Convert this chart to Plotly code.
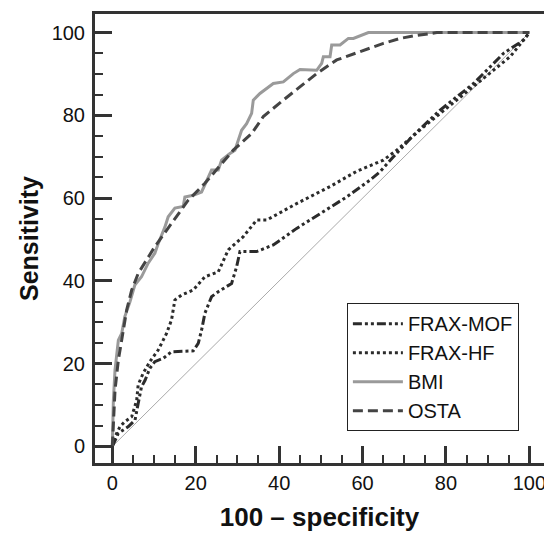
import plotly.graph_objects as go

# ---- data ----
bmi_x = [0, 0.25, 0.65, 1, 1.45, 2.25, 3, 4.25, 5.4, 7, 8.6, 10.2, 11, 12.6, 13.4, 15, 17, 17.4,
         19.4, 21.4, 23, 23.8, 25.4, 26.2, 28.2, 29.4, 31, 32.2, 33.4, 33.8, 35.4, 37, 38.6, 41,
         43.4, 45, 49, 50.2, 50.6, 52.2, 52.6, 54.6, 56.6, 57.8, 61.4, 100]
bmi_y = [0, 11, 18.5, 21.7, 25.7, 27.3, 31.4, 35, 39, 41, 44.3, 46.7, 49, 53, 55.5, 57.6, 58, 60.3,
         60.7, 61.5, 65, 66.8, 66.8, 69.2, 70.8, 71.6, 76.4, 78, 80.5, 83.7, 85.3, 86.5, 87.7, 88.1,
         90.1, 91.1, 90.9, 92.6, 94.2, 94.2, 97, 97, 98.6, 98.6, 100, 100]

osta_x = [0, 0.25, 0.65, 1.45, 2.25, 3.45, 4.25, 4.65, 6.2, 10.2, 14.2, 18.2, 22.2, 26.2, 29, 33.4,
          36.2, 41, 45, 49, 53.8, 59.4, 65, 69, 72.2, 77.8, 100]
osta_y = [0, 5.6, 13.6, 20.9, 25.7, 33, 36.2, 37.8, 41.8, 48.3, 53.9, 59.5, 63.6, 68.4, 71.6, 75.6,
          79.7, 83.7, 86.9, 90.1, 93.4, 95.4, 97.4, 98.6, 99.2, 100, 100]

hf_x = [0, 0.65, 1.85, 3, 4.65, 5.85, 6.2, 7.4, 9, 11, 13, 14.2, 15, 16.6, 19.4, 22.2, 25.4, 27.8,
        31.4, 34.6, 37, 44.2, 52.2, 58.6, 65, 68.2, 74.6, 82.6, 90.6, 95.4, 100]
hf_y = [0, 2.4, 4.8, 6, 7.2, 11.2, 14.9, 17.7, 20.5, 23.3, 27.3, 30.6, 35.4, 36.6, 37.8, 41, 42.2, 47.5,
        50.7, 54.7, 54.7, 58.7, 62.8, 66.5, 69.2, 71.6, 77.2, 83.7, 90.1, 94.2, 100]

mof_x = [0, 1.45, 3.85, 5.45, 6.2, 7, 7.85, 9, 10.2, 12.2, 14.2, 19.4, 20.6, 21.4, 22.2, 23.8, 25.4,
         28.6, 29.8, 30.6, 34.6, 38.6, 44.2, 49.8, 56.2, 61.8, 64.2, 67.4, 72, 78.6, 86.6, 93.8, 98.6, 100]
mof_y = [0, 3.2, 4.8, 6.4, 10.4, 14.4, 16, 18.9, 20.5, 21.3, 22.9, 23.1, 24.9, 28.1, 32.2, 36.2, 37.4,
         39.4, 43.4, 47.1, 47.1, 48.7, 52.7, 56.3, 60.3, 64.4, 66.4, 70, 75, 81.3, 87.7, 95, 98.2, 100]

ref_x = [0, 100]
ref_y = [0, 100]

tick_vals = [0, 20, 40, 60, 80, 100]
tick_text = ["0", "20", "40", "60", "80", "100"]

FONT = "Arial, Liberation Sans, sans-serif"
AX = "#333333"

fig = go.Figure()
fig.add_trace(go.Scatter(x=ref_x, y=ref_y, mode="lines", showlegend=False,
                         line=dict(color="#aaaaaa", width=1), hoverinfo="skip"))
fig.add_trace(go.Scatter(x=mof_x, y=mof_y, mode="lines", name="FRAX-MOF",
                         line=dict(color="#2b2b2b", width=3, dash="9px,3px,3px,3px,3px,3px")))
fig.add_trace(go.Scatter(x=hf_x, y=hf_y, mode="lines", name="FRAX-HF",
                         line=dict(color="#2b2b2b", width=3, dash="3px,3px")))
fig.add_trace(go.Scatter(x=bmi_x, y=bmi_y, mode="lines", name="BMI",
                         line=dict(color="#9a9a9a", width=3)))
fig.add_trace(go.Scatter(x=osta_x, y=osta_y, mode="lines", name="OSTA",
                         line=dict(color="#444444", width=3, dash="10px,5px")))

axis_common = dict(
    showgrid=False, zeroline=False, showline=True, linecolor=AX, linewidth=3,
    ticks="inside", tickcolor=AX, tickwidth=3, ticklen=17,
    tickvals=tick_vals, ticktext=tick_text, automargin=False, ticklabeloverflow="allow",
    tickfont=dict(family=FONT, size=20, color="#111111"),
    minor=dict(dtick=5, tick0=0, ticks="inside", ticklen=8, tickwidth=2, tickcolor=AX),
)

fig.update_layout(
    width=544, height=533,
    margin=dict(l=95, r=0, t=14, b=70),
    paper_bgcolor="white", plot_bgcolor="white",
    font=dict(family=FONT),
    xaxis=dict(range=[-4.15, 103.5], mirror=True, ticklabelstandoff=0,
               title=dict(text="<b>100 – specificity</b>", font=dict(family=FONT, size=26, color="#111111"),
                          standoff=15),
               **axis_common),
    yaxis=dict(range=[-3.99, 104.5], ticklabelstandoff=3,
               title=dict(text="<b>Sensitivity</b>", font=dict(family=FONT, size=25, color="#111111"),
                          standoff=6),
               **axis_common),
    legend=dict(x=0.561, y=0.356, xanchor="left", yanchor="top",
                bordercolor="#222222", borderwidth=1, bgcolor="white",
                font=dict(family=FONT, size=20, color="#111111"),
                tracegroupgap=0, itemwidth=50),
    showlegend=True,
)

fig.write_html("out.html", config={"displayModeBar": False},
               post_script="document.body.style.margin='0';document.body.style.overflow='hidden';")
